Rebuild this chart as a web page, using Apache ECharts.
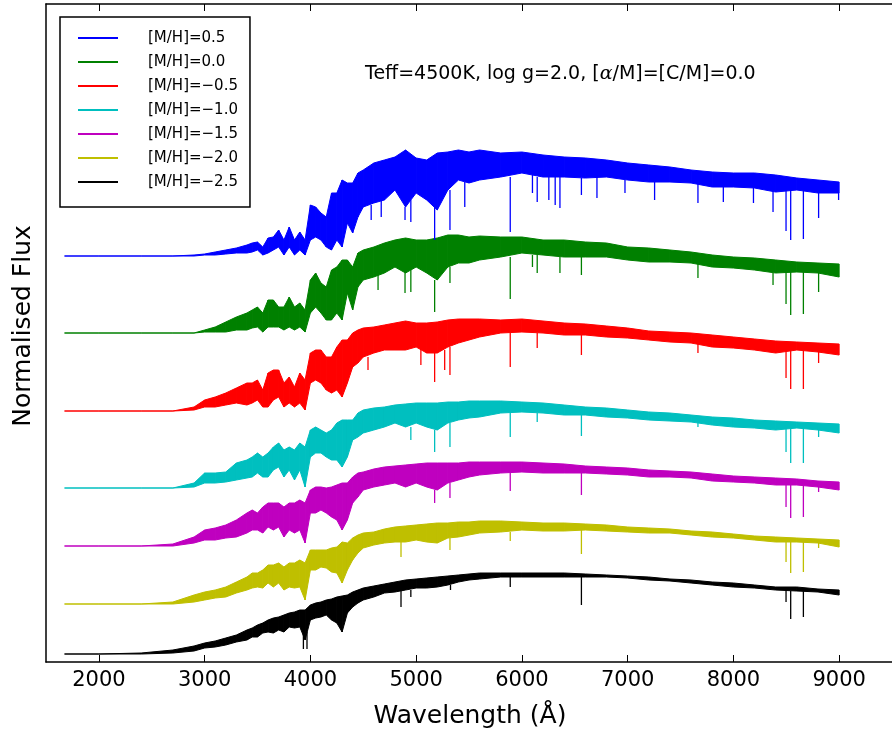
<!DOCTYPE html>
<html><head><meta charset="utf-8">
<script src="https://cdn.jsdelivr.net/npm/echarts@6/dist/echarts.min.js"></script>
<style>html,body{margin:0;padding:0;background:#fff}#c{width:892px;height:736px}</style>
</head><body><div id="c"></div>
<script>
// Wavelength grid (Angstrom) at which each spectrum's envelope was read
const wavelengths = [1675,2000,2400,2700,2900,3000,3100,3200,3300,3400,3450,3500,3550,3600,3650,3700,3750,3800,3850,3900,3950,4000,4050,4100,4150,4200,4250,4300,4350,4400,4450,4500,4600,4700,4800,4900,5000,5100,5200,5300,5400,5500,5600,5800,6000,6200,6400,6600,6800,7000,7200,7400,7600,7800,8000,8200,8400,8600,8800,9000];
const seriesNames = ['[M/H]=0.5','[M/H]=0.0','[M/H]=\u22120.5','[M/H]=\u22121.0','[M/H]=\u22121.5','[M/H]=\u22122.0','[M/H]=\u22122.5'];
const seriesColors = ['#0000ff','#008000','#ff0000','#00bfbf','#bf00bf','#bfbf00','#000000'];
const xTicks = [2000,3000,4000,5000,6000,7000,8000,9000];

// upper / lower envelope of the dense line forest (offset normalised flux)
const topP05 = [4.06,4.06,4.06,4.06,4.07,4.08,4.10,4.12,4.14,4.17,4.19,4.20,4.15,4.24,4.25,4.32,4.22,4.35,4.22,4.30,4.22,4.57,4.55,4.49,4.45,4.69,4.69,4.82,4.79,4.79,4.89,4.92,4.99,5.02,5.05,5.12,5.04,5.02,5.09,5.10,5.12,5.10,5.12,5.09,5.10,5.07,5.05,5.04,5.02,4.99,4.97,4.95,4.92,4.90,4.89,4.89,4.87,4.84,4.82,4.80];
const botP05 = [4.06,4.06,4.06,4.06,4.06,4.07,4.07,4.08,4.09,4.09,4.10,4.12,4.07,4.09,4.12,4.15,4.07,4.15,4.07,4.12,4.07,4.22,4.25,4.22,4.15,4.12,4.22,4.15,4.39,4.29,4.45,4.55,4.59,4.62,4.72,4.55,4.69,4.62,4.52,4.72,4.82,4.79,4.82,4.85,4.89,4.85,4.85,4.84,4.85,4.82,4.80,4.80,4.79,4.75,4.75,4.74,4.70,4.72,4.69,4.69];
const topP00 = [3.29,3.29,3.29,3.29,3.29,3.32,3.35,3.40,3.45,3.49,3.52,3.55,3.49,3.62,3.62,3.55,3.55,3.65,3.55,3.59,3.52,3.82,3.89,3.79,3.75,3.92,3.95,4.02,4.02,3.95,4.09,4.12,4.15,4.19,4.22,4.24,4.22,4.22,4.24,4.27,4.27,4.25,4.26,4.25,4.25,4.22,4.22,4.20,4.19,4.15,4.14,4.12,4.10,4.07,4.05,4.04,4.02,4.00,3.99,3.98];
const botP00 = [3.29,3.29,3.29,3.29,3.29,3.30,3.30,3.30,3.32,3.32,3.34,3.35,3.30,3.35,3.35,3.35,3.32,3.35,3.32,3.35,3.30,3.49,3.55,3.49,3.42,3.42,3.49,3.42,3.69,3.52,3.75,3.82,3.85,3.89,3.95,3.89,3.95,3.89,3.82,3.95,3.99,3.99,4.02,4.05,4.09,4.07,4.05,4.05,4.05,4.02,4.00,4.00,3.99,3.95,3.94,3.92,3.89,3.90,3.89,3.85];
const topM05 = [2.51,2.51,2.51,2.51,2.55,2.62,2.65,2.69,2.74,2.79,2.79,2.82,2.72,2.89,2.92,2.92,2.79,2.85,2.75,2.89,2.82,3.09,3.12,3.12,3.05,3.05,3.15,3.22,3.22,3.29,3.32,3.34,3.35,3.37,3.39,3.41,3.39,3.39,3.40,3.42,3.43,3.43,3.43,3.42,3.43,3.41,3.39,3.38,3.36,3.34,3.31,3.30,3.29,3.27,3.25,3.23,3.21,3.20,3.19,3.18];
const botM05 = [2.51,2.51,2.51,2.51,2.52,2.55,2.55,2.57,2.59,2.57,2.59,2.62,2.55,2.55,2.62,2.65,2.55,2.59,2.55,2.59,2.52,2.79,2.82,2.79,2.72,2.69,2.72,2.65,2.79,2.95,2.99,3.05,3.09,3.12,3.12,3.12,3.15,3.09,3.09,3.15,3.19,3.22,3.25,3.29,3.30,3.29,3.27,3.27,3.25,3.24,3.22,3.20,3.19,3.15,3.14,3.12,3.09,3.12,3.10,3.07];
const topM10 = [1.74,1.74,1.74,1.74,1.79,1.89,1.89,1.90,1.99,2.02,2.05,2.09,2.05,2.09,2.15,2.19,2.12,2.15,2.12,2.19,2.15,2.32,2.35,2.32,2.29,2.32,2.39,2.42,2.42,2.42,2.49,2.52,2.54,2.55,2.57,2.58,2.59,2.59,2.59,2.60,2.60,2.61,2.61,2.61,2.60,2.59,2.57,2.55,2.54,2.52,2.50,2.49,2.47,2.45,2.44,2.42,2.41,2.40,2.39,2.38];
const botM10 = [1.74,1.74,1.74,1.74,1.75,1.79,1.79,1.80,1.82,1.84,1.85,1.89,1.85,1.85,1.92,1.95,1.85,1.92,1.82,1.92,1.75,2.05,2.09,2.09,2.05,2.02,2.02,1.95,2.05,2.22,2.25,2.29,2.32,2.35,2.39,2.35,2.39,2.35,2.32,2.39,2.42,2.44,2.45,2.49,2.50,2.49,2.47,2.47,2.45,2.44,2.42,2.41,2.40,2.37,2.35,2.34,2.32,2.34,2.32,2.29];
const topM15 = [1.16,1.16,1.16,1.18,1.25,1.32,1.34,1.37,1.42,1.49,1.52,1.49,1.55,1.59,1.59,1.59,1.55,1.59,1.59,1.62,1.59,1.72,1.75,1.75,1.74,1.75,1.77,1.79,1.79,1.85,1.89,1.90,1.93,1.95,1.96,1.97,1.98,1.99,1.99,1.99,1.99,2.00,2.00,2.00,2.00,1.99,1.98,1.96,1.95,1.94,1.92,1.91,1.90,1.88,1.86,1.85,1.84,1.83,1.81,1.80];
const botM15 = [1.16,1.16,1.16,1.16,1.19,1.22,1.22,1.24,1.25,1.29,1.32,1.32,1.29,1.35,1.32,1.35,1.25,1.32,1.29,1.32,1.19,1.49,1.49,1.52,1.49,1.45,1.42,1.32,1.42,1.59,1.65,1.72,1.75,1.77,1.79,1.75,1.79,1.75,1.72,1.79,1.82,1.85,1.87,1.89,1.90,1.89,1.89,1.89,1.88,1.87,1.85,1.85,1.84,1.81,1.80,1.79,1.77,1.77,1.75,1.72];
const topM20 = [0.58,0.58,0.58,0.60,0.67,0.70,0.72,0.75,0.80,0.85,0.89,0.89,0.92,0.97,0.97,0.99,0.95,0.99,0.99,1.02,0.99,1.12,1.12,1.12,1.12,1.14,1.15,1.20,1.19,1.24,1.27,1.29,1.30,1.33,1.35,1.36,1.37,1.38,1.39,1.39,1.40,1.40,1.41,1.41,1.40,1.39,1.39,1.38,1.37,1.35,1.34,1.33,1.31,1.30,1.28,1.26,1.25,1.24,1.23,1.22];
const botM20 = [0.58,0.58,0.58,0.58,0.60,0.62,0.64,0.65,0.69,0.72,0.74,0.75,0.74,0.79,0.75,0.79,0.72,0.75,0.74,0.75,0.62,0.92,0.92,0.95,0.94,0.90,0.89,0.79,0.92,1.02,1.09,1.14,1.17,1.19,1.20,1.20,1.22,1.20,1.19,1.24,1.25,1.27,1.29,1.30,1.32,1.31,1.31,1.32,1.31,1.30,1.29,1.29,1.27,1.25,1.24,1.22,1.20,1.20,1.19,1.15];
const topM25 = [0.08,0.08,0.09,0.12,0.16,0.19,0.21,0.24,0.27,0.32,0.34,0.37,0.39,0.42,0.44,0.45,0.47,0.49,0.50,0.52,0.52,0.57,0.59,0.60,0.62,0.63,0.65,0.66,0.67,0.70,0.72,0.74,0.76,0.78,0.80,0.82,0.83,0.84,0.85,0.86,0.87,0.88,0.89,0.89,0.89,0.89,0.89,0.88,0.87,0.86,0.85,0.83,0.82,0.80,0.79,0.77,0.75,0.75,0.73,0.72];
const botM25 = [0.08,0.08,0.08,0.09,0.11,0.14,0.15,0.17,0.20,0.22,0.25,0.25,0.29,0.30,0.29,0.32,0.30,0.35,0.34,0.35,0.22,0.42,0.44,0.45,0.47,0.42,0.39,0.30,0.49,0.55,0.59,0.62,0.65,0.69,0.70,0.72,0.74,0.74,0.75,0.77,0.80,0.82,0.83,0.85,0.85,0.85,0.85,0.85,0.85,0.84,0.82,0.81,0.79,0.77,0.75,0.74,0.72,0.71,0.70,0.67];

// strong absorption lines: [wavelength, flux at line wing, flux at line core]
const linesP05 = [[4575,4.57,4.42],[4670,4.62,4.45],[4895,4.55,4.42],[4950,4.62,4.40],[5175,4.57,4.22],[5320,4.72,4.32],[5460,4.80,4.55],[5890,4.85,4.30],[6100,4.87,4.69],[6145,4.85,4.60],[6255,4.85,4.62],[6315,4.85,4.57],[6360,4.85,4.54],[6563,4.84,4.67],[6710,4.85,4.64],[6975,4.82,4.69],[7255,4.80,4.62],[7665,4.78,4.59],[7905,4.75,4.60],[8190,4.74,4.59],[8375,4.72,4.50],[8498,4.72,4.31],[8542,4.72,4.22],[8662,4.72,4.23],[8806,4.70,4.44],[8995,4.69,4.62]];
const linesP00 = [[4640,3.89,3.72],[4895,3.89,3.69],[4950,3.92,3.70],[5175,3.82,3.50],[5320,3.95,3.79],[5890,4.05,3.63],[6100,4.07,3.95],[6145,4.07,3.89],[6360,4.05,3.89],[6563,4.05,3.87],[7665,3.99,3.84],[8375,3.89,3.77],[8498,3.90,3.58],[8542,3.90,3.47],[8662,3.90,3.48],[8806,3.89,3.70]];
const linesM05 = [[4545,3.05,2.92],[5045,3.15,2.97],[5175,3.09,2.80],[5270,3.12,2.92],[5320,3.15,2.87],[5890,3.29,2.95],[6145,3.29,3.14],[6563,3.27,3.07],[7665,3.19,3.09],[8498,3.12,2.84],[8542,3.12,2.73],[8662,3.12,2.73],[8806,3.10,2.99]];
const linesM10 = [[4950,2.35,2.22],[5175,2.32,2.10],[5320,2.39,2.15],[5890,2.49,2.25],[6145,2.49,2.40],[6563,2.47,2.26],[7665,2.40,2.35],[8498,2.34,2.10],[8542,2.34,1.99],[8662,2.34,1.99],[8806,2.32,2.25]];
const linesM15 = [[5175,1.72,1.59],[5320,1.79,1.64],[5890,1.89,1.71],[6563,1.89,1.67],[8498,1.77,1.55],[8542,1.77,1.44],[8662,1.77,1.45],[8806,1.75,1.70]];
const linesM20 = [[4857,1.20,1.05],[5320,1.24,1.12],[5890,1.30,1.21],[6563,1.32,1.08],[8498,1.20,1.00],[8542,1.20,0.89],[8662,1.20,0.90],[8806,1.19,1.14]];
const linesM25 = [[3934,0.35,0.13],[3968,0.30,0.13],[4857,0.72,0.55],[4950,0.72,0.65],[5325,0.77,0.72],[5890,0.85,0.75],[6563,0.85,0.57],[8498,0.72,0.60],[8542,0.71,0.43],[8662,0.71,0.45]];

const tops = [topP05, topP00, topM05, topM10, topM15, topM20, topM25];
const bots = [botP05, botP00, botM05, botM10, botM15, botM20, botM25];
const lineLists = [linesP05, linesP00, linesM05, linesM10, linesM15, linesM20, linesM25];

const FONT = 'DejaVu Sans';
const series = [];
seriesNames.forEach((name, i) => {
  const col = seriesColors[i];
  // band between the two envelopes, drawn segment by segment through the axes
  series.push({
    type: 'custom', name: name, coordinateSystem: 'cartesian2d',
    data: wavelengths.map((w, j) => [w, tops[i][j], bots[i][j]]),
    encode: { x: 0, y: [1, 2] }, itemStyle: { color: col }, silent: true, z: 2,
    renderItem: (params, api) => {
      const k = params.dataIndexInside;
      if (k >= params.dataInsideLength - 1) return null;
      const a1 = api.coord([api.value(0, k), api.value(1, k)]);
      const a2 = api.coord([api.value(0, k + 1), api.value(1, k + 1)]);
      const b2 = api.coord([api.value(0, k + 1), api.value(2, k + 1)]);
      const b1 = api.coord([api.value(0, k), api.value(2, k)]);
      return { type: 'polygon', shape: { points: [a1, a2, b2, b1] },
               style: { fill: col, stroke: col, lineWidth: 1, lineJoin: 'round' } };
    }
  });
  series.push({
    type: 'custom', name: '_ln' + i, coordinateSystem: 'cartesian2d', data: lineLists[i],
    encode: { x: 0, y: [1, 2] }, itemStyle: { color: col }, silent: true, z: 3,
    renderItem: (params, api) => {
      const p1 = api.coord([api.value(0), api.value(1)]);
      const p2 = api.coord([api.value(0), api.value(2)]);
      return { type: 'line', shape: { x1: p1[0], y1: p1[1], x2: p2[0], y2: p2[1] },
               style: { stroke: col, lineWidth: 1.3 } };
    }
  });
});

const xAxisCommon = {
  type: 'value', min: 1500, max: 9500,
  axisLine: { show: true, lineStyle: { color: '#000', width: 1.5 } },
  splitLine: { show: false }
};

const chart = echarts.init(document.getElementById('c'));
chart.setOption({
  animation: false,
  backgroundColor: '#fff',
  grid: { left: 46, top: 4, width: 850, height: 658 },
  xAxis: [
    Object.assign({}, xAxisCommon, {
      position: 'bottom',
      axisTick: { show: true, inside: true, length: 7, customValues: xTicks, lineStyle: { color: '#000', width: 1 } },
      axisLabel: { show: true, customValues: xTicks, formatter: v => String(v), color: '#000', fontSize: 21, fontFamily: FONT, margin: 8 }
    }),
    Object.assign({}, xAxisCommon, {
      position: 'top',
      axisTick: { show: true, inside: true, length: 7, customValues: xTicks, lineStyle: { color: '#000', width: 1 } },
      axisLabel: { show: false }
    })
  ],
  yAxis: {
    type: 'value', min: 0, max: 6.58,
    axisLine: { show: true, lineStyle: { color: '#000', width: 1.5 } },
    axisTick: { show: false }, axisLabel: { show: false }, splitLine: { show: false }
  },
  legend: {
    data: seriesNames, orient: 'vertical', left: 60, top: 17,
    padding: [9, 12, 13, 18], itemWidth: 40, itemHeight: 2, itemGap: 0, icon: 'rect',
    borderColor: '#000', borderWidth: 1.5, backgroundColor: '#fff', selectedMode: false,
    textStyle: { fontSize: 15, fontFamily: FONT, color: '#000', lineHeight: 15, padding: [9, 0, 0, 25] }
  },
  graphic: [
    { type: 'text', x: 365, y: 74, style: {
        text: 'Teff=4500K, log g=2.0, [{a|\u03b1}/M]=[C/M]=0.0',
        fontSize: 19, fontFamily: FONT, fill: '#000', verticalAlign: 'middle', align: 'left',
        rich: { a: { fontSize: 19, fontFamily: 'DejaVu Serif', fontStyle: 'italic', fill: '#000' } } } },
    { type: 'text', x: 470, y: 716, style: {
        text: 'Wavelength (\u00c5)', fontSize: 25, fontFamily: FONT, fill: '#000', align: 'center', verticalAlign: 'middle' } },
    { type: 'text', x: 23, y: 326, rotation: Math.PI / 2, style: {
        text: 'Normalised Flux', fontSize: 25, fontFamily: FONT, fill: '#000', align: 'center', verticalAlign: 'middle' } }
  ],
  series: series
});
</script>
</body></html>
